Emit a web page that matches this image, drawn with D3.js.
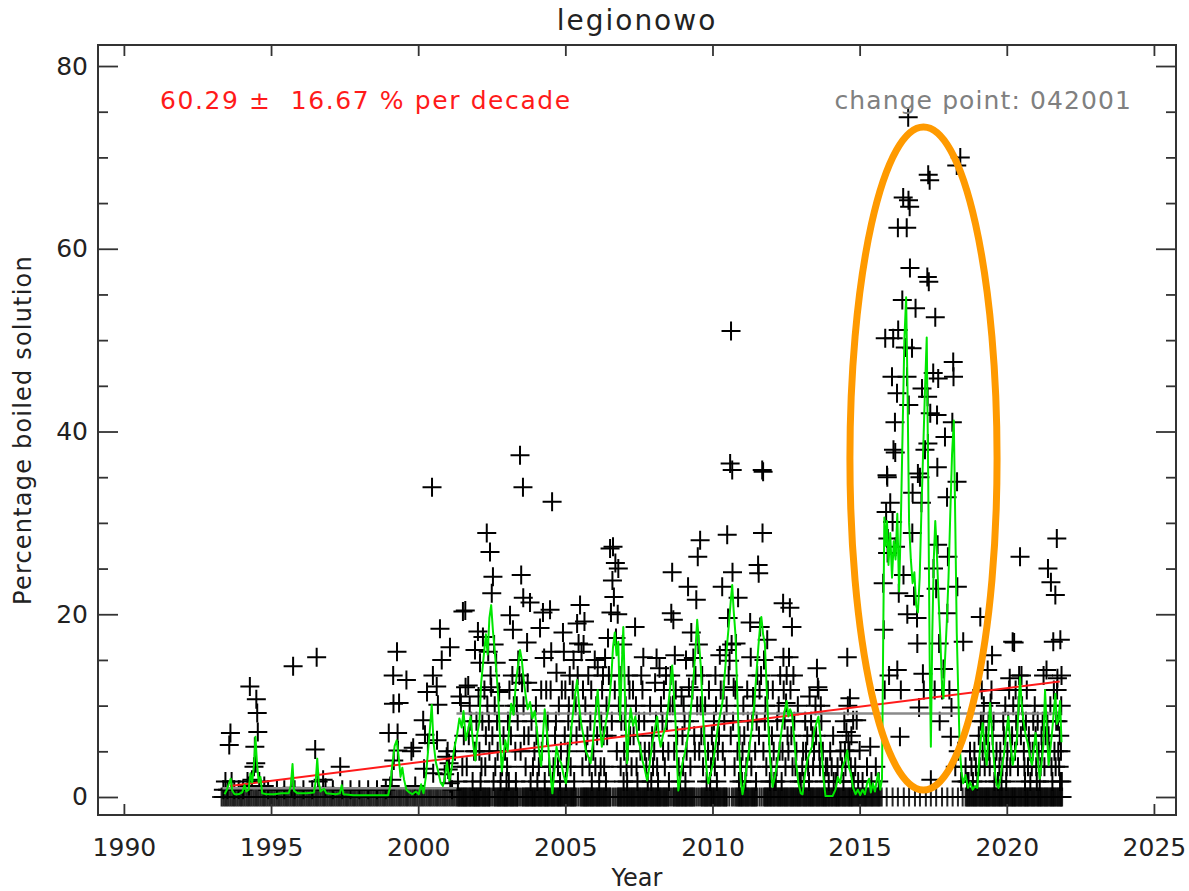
<!DOCTYPE html>
<html>
<head>
<meta charset="utf-8">
<script src="https://cdn.jsdelivr.net/npm/d3@7"></script>
<style>
  body { margin: 0; background: #fff; }
  svg { display: block; }
  text { font-family: "DejaVu Sans", sans-serif; }
</style>
</head>
<body>
<svg id="chart" width="1189" height="891"></svg>
<script>
// ---- axis ticks ----
const xTickYears = [1990, 1995, 2000, 2005, 2010, 2015, 2020, 2025];
const yMajorTicks = [0, 20, 40, 60, 80];
const yMinorTicks = [5, 10, 15, 25, 30, 35, 45, 50, 55, 65, 70, 75];

// ---- annotation texts ----
const titleText = "legionowo";
const trendText = "60.29 \u00b1  16.67 % per decade";
const changeText = "change point: 042001";

// ---- samples with 0 % boiled solution (decimal years) ----
const zeroYears = [
  1993.32,1993.38,1993.44,1993.5,1993.56,1993.62,1993.68,1993.74,1993.8,1993.86,1993.92,1993.98,
  1994.04,1994.1,1994.16,1994.22,1994.28,1994.34,1994.4,1994.46,1994.52,1994.58,1994.64,1994.7,1994.76,1994.82,1994.88,1994.94,
  1995.0,1995.06,1995.12,1995.18,1995.24,1995.3,1995.36,1995.42,1995.48,1995.54,1995.6,1995.66,1995.72,1995.78,1995.84,1995.9,1995.96,
  1996.02,1996.08,1996.14,1996.2,1996.26,1996.32,1996.38,1996.44,1996.5,1996.56,1996.62,1996.68,1996.74,1996.8,1996.86,1996.92,1996.98,
  1997.04,1997.1,1997.16,1997.22,1997.28,1997.34,1997.4,1997.46,1997.52,1997.58,1997.64,1997.7,1997.76,1997.82,1997.88,1997.94,
  1998.0,1998.06,1998.12,1998.18,1998.24,1998.3,1998.36,1998.42,1998.48,1998.54,1998.6,1998.66,1998.72,1998.78,1998.84,1998.9,1998.96,
  1999.02,1999.08,1999.14,1999.2,1999.26,1999.32,1999.38,1999.44,1999.5,1999.56,1999.62,1999.68,1999.74,1999.8,1999.86,1999.92,1999.98,
  2000.04,2000.1,2000.16,2000.22,2000.28,2000.34,2000.4,2000.46,2000.52,2000.58,2000.64,2000.7,2000.76,2000.82,2000.88,2000.94,
  2001.0,2001.06,2001.12,2001.18,2001.24,2001.3,
  2001.34,2001.38,2001.41,2001.45,2001.49,2001.53,2001.56,2001.6,2001.63,2001.67,2001.71,2001.75,2001.78,2001.82,2001.86,2001.9,2001.93,2001.97,
  2002.0,2002.04,2002.07,2002.11,2002.15,2002.19,2002.22,2002.26,2002.29,2002.33,2002.37,2002.41,2002.44,2002.51,2002.58,2002.62,2002.66,2002.7,2002.73,2002.77,2002.8,2002.84,2002.88,2002.92,2002.95,2002.99,
  2003.02,2003.06,2003.1,2003.14,2003.17,2003.21,2003.24,2003.28,2003.32,2003.36,2003.39,2003.46,2003.53,2003.57,2003.61,2003.65,2003.68,2003.72,2003.75,2003.79,2003.83,2003.87,2003.9,2003.94,2003.97,
  2004.01,2004.05,2004.09,2004.12,2004.16,2004.19,2004.23,2004.27,2004.31,2004.34,2004.38,2004.41,2004.45,2004.49,2004.53,2004.56,2004.6,2004.63,2004.67,2004.71,2004.75,2004.78,2004.82,2004.85,2004.89,2004.93,2004.97,
  2005.0,2005.04,2005.07,2005.11,2005.15,2005.19,2005.22,2005.26,2005.29,2005.33,2005.37,2005.44,2005.51,2005.55,2005.59,2005.63,2005.66,2005.7,2005.73,2005.77,2005.81,2005.85,2005.88,2005.92,2005.95,2005.99,
  2006.03,2006.07,2006.1,2006.14,2006.17,2006.21,2006.25,2006.29,2006.32,2006.36,2006.39,2006.43,2006.47,2006.51,2006.54,2006.62,2006.69,2006.76,2006.8,2006.83,2006.87,2006.9,2006.94,2006.98,
  2007.01,2007.05,2007.09,2007.12,2007.16,2007.2,2007.24,2007.27,2007.31,2007.34,2007.38,2007.42,2007.46,2007.49,2007.53,2007.56,2007.6,2007.64,2007.68,2007.71,2007.75,2007.78,2007.82,2007.86,2007.9,2007.93,2007.97,
  2008.0,2008.04,2008.08,2008.12,2008.15,2008.19,2008.22,2008.26,2008.3,2008.34,2008.37,2008.41,2008.44,2008.48,2008.52,2008.59,2008.66,2008.7,2008.74,2008.78,2008.81,2008.85,2008.88,2008.92,2008.96,2008.99,
  2009.03,2009.07,2009.1,2009.14,2009.18,2009.22,2009.25,2009.29,2009.32,2009.36,2009.4,2009.47,2009.54,2009.61,2009.65,2009.69,2009.73,2009.76,2009.8,2009.83,2009.87,2009.91,2009.95,2009.98,
  2010.02,2010.05,2010.09,2010.13,2010.17,2010.2,2010.24,2010.27,2010.31,2010.35,2010.39,2010.42,2010.46,2010.49,2010.57,2010.66,2010.72,2010.78,2010.82,2010.86,2010.9,2010.93,2010.97,
  2011.0,2011.04,2011.08,2011.12,2011.15,2011.19,2011.22,2011.26,2011.3,2011.34,2011.37,2011.41,2011.44,2011.48,2011.52,2011.6,2011.67,2011.74,2011.78,2011.81,2011.85,2011.88,2011.92,2011.96,2011.99,
  2012.03,2012.07,2012.1,2012.14,2012.18,2012.22,2012.25,2012.29,2012.32,2012.36,2012.4,2012.44,2012.47,2012.51,2012.54,2012.58,2012.62,2012.66,2012.69,2012.73,2012.76,2012.8,2012.84,2012.88,2012.91,2012.95,2012.98,
  2013.02,2013.06,2013.1,2013.13,2013.17,2013.2,2013.24,2013.28,2013.32,2013.35,2013.39,2013.42,2013.46,2013.5,2013.54,2013.57,2013.61,2013.64,2013.68,2013.72,2013.76,2013.79,2013.83,2013.86,2013.9,2013.94,2013.97,
  2014.01,2014.05,2014.08,2014.12,2014.16,2014.2,2014.23,2014.27,2014.3,2014.34,2014.38,2014.42,2014.45,2014.49,2014.52,2014.56,2014.6,2014.64,2014.67,2014.71,2014.74,2014.78,2014.82,
  2014.86,2014.9,2014.94,2014.98,2015.02,2015.06,2015.1,2015.14,2015.18,2015.22,2015.26,2015.3,2015.34,2015.38,2015.42,2015.46,2015.5,2015.54,2015.58,2015.62,2015.66,2015.7,2015.75,
  2015.92,2016.12,2016.3,2016.5,2016.68,2016.88,2017.05,2017.25,2017.42,2017.6,2017.8,2017.98,2018.16,2018.34,2018.5,
  2018.6,2018.64,2018.67,2018.71,2018.74,2018.78,2018.82,2018.86,2018.89,2018.93,2018.96,2019.0,2019.04,2019.08,2019.11,2019.15,2019.18,2019.22,
  2019.26,2019.3,2019.33,2019.37,2019.4,2019.44,2019.48,2019.52,2019.55,2019.59,2019.62,2019.66,2019.7,2019.74,2019.77,2019.81,2019.84,2019.88,
  2019.92,2019.96,2019.99,2020.03,2020.06,2020.1,2020.14,2020.18,2020.21,2020.25,2020.28,2020.32,2020.36,2020.4,2020.43,2020.47,2020.5,2020.54,
  2020.58,2020.62,2020.65,2020.69,2020.72,2020.76,2020.8,2020.84,2020.87,2020.91,2020.94,2020.98,2021.02,2021.06,2021.09,2021.13,2021.16,2021.2,
  2021.24,2021.28,2021.31,2021.35,2021.38,2021.42,2021.46,2021.5,2021.53,2021.57,2021.6,2021.64,2021.68,2021.72,2021.75,2021.79,2021.82,2021.85,2021.88
];

// ---- samples with a non-zero share: [decimal year, percent] ----
const samples = [
  [1993.38,0.8],[1993.45,1.7],[1993.52,0.8],[1993.58,5.7],[1993.62,7.0],[1993.66,1.7],[1993.75,0.8],[1993.9,0.8],
  [1994.05,0.8],[1994.2,1.7],[1994.25,1.2],[1994.28,12.1],[1994.35,1.9],[1994.42,3.3],[1994.45,5.5],[1994.48,3.7],
  [1994.5,10.7],[1994.53,9.2],[1994.55,7.1],[1994.6,1.7],[1994.77,1.2],[1994.9,0.8],[1995.2,0.8],[1995.45,0.8],
  [1995.7,1.0],[1995.75,14.3],[1995.8,0.8],[1996.1,0.8],[1996.4,0.8],[1996.5,5.2],[1996.55,15.3],[1996.6,1.7],
  [1996.77,1.9],[1996.85,1.0],[1997.1,0.8],[1997.35,3.3],[1997.42,0.8],[1997.7,0.8],[1998.0,0.8],[1998.3,0.8],
  [1998.6,0.8],[1998.9,0.8],[1999.0,7.0],[1999.05,1.2],[1999.1,1.9],[1999.15,13.3],[1999.16,10.2],[1999.17,4.0],
  [1999.28,15.9],[1999.3,7.0],[1999.31,5.1],[1999.35,10.3],[1999.6,12.8],[1999.77,5.0],[1999.83,5.4],[1999.9,1.2],
  [2000.17,8.4],[2000.2,3.1],[2000.23,6.8],[2000.3,11.5],[2000.33,5.9],[2000.47,33.9],[2000.5,13.3],[2000.51,2.6],
  [2000.63,12.1],[2000.64,6.2],[2000.67,10.1],[2000.74,18.4],[2000.8,15.0],[2000.9,2.5],[2000.97,4.4],[2001.0,5.0],
  [2001.02,3.0],[2001.05,3.7],[2001.08,16.4],[2001.09,1.5],[2001.15,0.8],
  [2001.25,5.0],[2001.35,1.7],[2001.42,11.0],[2001.45,10.3],[2001.5,3.3],[2001.52,20.3],[2001.55,6.7],[2001.6,20.4],
  [2001.61,12.0],[2001.65,3.3],[2001.7,12.2],[2001.72,6.7],[2001.75,10.0],[2001.8,8.3],[2001.85,1.7],[2001.9,5.0],
  [2001.93,16.1],[2001.95,5.0],[2001.98,8.3],
  [2002.03,18.1],[2002.05,11.0],[2002.08,5.0],[2002.1,14.7],[2002.12,1.7],[2002.15,3.3],[2002.18,8.3],[2002.2,17.5],
  [2002.25,11.7],[2002.28,3.3],[2002.3,6.7],[2002.33,28.9],[2002.35,10.0],[2002.38,15.9],[2002.4,8.3],[2002.42,5.0],
  [2002.44,26.8],[2002.46,13.3],[2002.48,12.0],[2002.5,22.3],[2002.52,6.7],[2002.54,24.1],[2002.56,1.7],[2002.58,16.7],
  [2002.6,10.0],[2002.62,3.3],[2002.65,14.7],[2002.68,8.3],[2002.7,5.0],[2002.75,11.5],[2002.8,1.7],[2002.85,3.3],
  [2002.9,6.7],[2002.95,5.0],
  [2003.0,1.7],[2003.02,3.3],[2003.05,8.3],[2003.08,1.7],[2003.1,11.7],[2003.12,19.9],[2003.15,6.7],[2003.2,13.3],
  [2003.22,18.3],[2003.25,10.0],[2003.3,5.0],[2003.32,1.7],[2003.35,10.0],[2003.38,8.3],[2003.4,15.0],[2003.44,13.3],
  [2003.46,37.4],[2003.48,5.0],[2003.5,24.3],[2003.53,12.5],[2003.56,33.9],[2003.57,21.8],[2003.58,10.0],[2003.6,6.7],
  [2003.65,3.3],[2003.7,16.9],[2003.72,12.5],[2003.75,6.7],[2003.8,21.3],[2003.82,1.7],[2003.85,8.3],[2003.9,3.3],
  [2003.95,5.0],
  [2004.0,10.0],[2004.02,6.7],[2004.05,1.7],[2004.1,3.3],[2004.14,18.5],[2004.18,11.7],[2004.2,5.0],[2004.24,20.2],
  [2004.28,15.2],[2004.3,1.7],[2004.35,11.7],[2004.38,6.7],[2004.4,8.3],[2004.45,3.3],[2004.48,20.5],[2004.5,11.7],
  [2004.52,15.9],[2004.55,32.3],[2004.58,1.7],[2004.6,3.3],[2004.65,6.7],[2004.68,8.3],[2004.7,13.6],[2004.75,3.3],
  [2004.78,10.0],[2004.82,1.7],[2004.85,5.0],[2004.88,11.7],[2004.92,18.0],[2004.95,15.9],[2004.98,6.7],
  [2005.0,11.7],[2005.02,1.7],[2005.05,3.3],[2005.08,5.0],[2005.1,8.3],[2005.12,10.0],[2005.15,13.3],[2005.18,3.3],
  [2005.2,6.7],[2005.25,11.7],[2005.28,15.0],[2005.3,1.7],[2005.35,10.0],[2005.38,6.7],[2005.4,19.0],[2005.42,13.3],
  [2005.45,16.8],[2005.48,8.3],[2005.5,21.0],[2005.55,15.9],[2005.58,3.3],[2005.6,11.7],[2005.62,16.7],[2005.65,19.2],
  [2005.68,10.0],[2005.7,5.0],[2005.75,6.7],[2005.78,13.3],[2005.82,3.3],[2005.85,8.3],[2005.88,11.7],[2005.9,1.7],
  [2005.95,5.0],
  [2006.0,15.0],[2006.02,3.3],[2006.05,10.0],[2006.08,6.7],[2006.1,14.2],[2006.15,1.7],[2006.2,3.3],[2006.22,8.3],
  [2006.25,11.7],[2006.28,13.3],[2006.3,6.7],[2006.32,3.3],[2006.35,15.2],[2006.38,1.7],[2006.4,10.0],[2006.42,6.7],
  [2006.45,17.4],[2006.48,13.3],[2006.52,27.2],[2006.55,20.2],[2006.58,8.3],[2006.6,23.7],[2006.62,27.4],[2006.65,21.9],
  [2006.68,11.7],[2006.7,25.6],[2006.72,17.4],[2006.75,5.0],[2006.78,20.0],[2006.8,25.0],[2006.82,10.0],[2006.85,13.3],
  [2006.88,3.3],[2006.9,8.3],[2006.95,16.7],[2006.98,1.7],
  [2007.0,5.0],[2007.02,8.3],[2007.05,10.0],[2007.08,3.3],[2007.1,1.7],[2007.12,5.0],[2007.15,13.3],[2007.18,11.7],
  [2007.2,6.7],[2007.25,3.3],[2007.3,11.7],[2007.32,6.7],[2007.37,18.6],[2007.4,10.0],[2007.42,3.3],[2007.45,1.7],
  [2007.5,8.3],[2007.55,5.0],[2007.58,13.3],[2007.62,11.7],[2007.65,15.3],[2007.68,8.3],[2007.7,5.0],[2007.75,3.3],
  [2007.8,1.7],[2007.85,5.0],[2007.88,10.0],[2007.92,1.7],[2007.95,6.7],[2007.98,3.3],
  [2008.02,5.0],[2008.05,12.5],[2008.08,8.3],[2008.1,15.2],[2008.12,3.3],[2008.15,1.7],[2008.2,14.1],[2008.25,10.0],
  [2008.3,8.3],[2008.32,5.0],[2008.35,11.7],[2008.38,3.3],[2008.42,13.3],[2008.45,8.3],[2008.5,5.0],[2008.52,1.7],
  [2008.55,10.0],[2008.58,13.3],[2008.6,20.1],[2008.63,24.6],[2008.65,10.0],[2008.67,19.4],[2008.7,5.0],[2008.72,15.5],
  [2008.75,11.7],[2008.8,6.7],[2008.85,3.3],[2008.9,1.7],[2008.95,11.0],[2008.98,6.7],
  [2009.0,3.3],[2009.02,10.0],[2009.05,8.3],[2009.08,1.7],[2009.1,15.0],[2009.12,5.0],[2009.17,23.0],[2009.2,12.0],
  [2009.22,8.3],[2009.25,3.3],[2009.28,18.0],[2009.32,11.7],[2009.35,15.2],[2009.38,6.7],[2009.4,5.0],[2009.42,13.3],
  [2009.45,21.6],[2009.48,10.0],[2009.5,26.3],[2009.52,16.7],[2009.55,5.0],[2009.58,28.1],[2009.6,10.0],[2009.62,6.7],
  [2009.65,13.3],[2009.68,3.3],[2009.72,6.7],[2009.75,10.0],[2009.8,1.7],[2009.85,5.0],[2009.88,11.7],[2009.92,1.7],
  [2009.95,3.3],[2009.98,6.7],
  [2010.02,5.0],[2010.05,8.3],[2010.08,3.3],[2010.1,13.3],[2010.12,10.0],[2010.15,1.7],[2010.18,5.0],[2010.22,6.7],
  [2010.25,15.5],[2010.28,11.7],[2010.33,23.0],[2010.35,5.0],[2010.38,11.7],[2010.4,8.3],[2010.42,3.3],[2010.45,16.1],
  [2010.48,10.0],[2010.5,28.7],[2010.53,19.6],[2010.55,13.3],[2010.58,14.9],[2010.6,36.5],[2010.62,6.7],[2010.63,51.0],
  [2010.65,16.7],[2010.67,35.8],[2010.68,24.6],[2010.7,8.3],[2010.72,12.0],[2010.75,3.3],[2010.78,11.7],[2010.8,16.8],
  [2010.85,5.0],[2010.87,21.8],[2010.9,1.7],[2010.92,6.7],[2010.97,3.3],
  [2011.0,1.7],[2011.02,5.0],[2011.05,10.0],[2011.08,6.7],[2011.12,1.7],[2011.15,3.3],[2011.18,11.7],[2011.2,8.3],
  [2011.25,5.0],[2011.28,19.1],[2011.3,15.3],[2011.32,3.3],[2011.35,8.3],[2011.38,11.0],[2011.42,10.0],[2011.45,5.0],
  [2011.48,1.7],[2011.5,8.3],[2011.52,13.3],[2011.55,25.4],[2011.57,24.5],[2011.58,6.7],[2011.6,11.7],[2011.62,18.6],
  [2011.65,13.3],[2011.69,35.8],[2011.7,28.9],[2011.72,35.6],[2011.73,5.0],[2011.75,15.0],[2011.78,8.3],[2011.8,10.0],
  [2011.83,3.3],[2011.86,17.2],[2011.88,11.7],[2011.92,6.7],[2011.95,1.7],
  [2012.0,3.3],[2012.02,6.7],[2012.05,11.7],[2012.08,5.0],[2012.1,1.7],[2012.15,1.7],[2012.18,3.3],[2012.2,8.3],
  [2012.25,10.0],[2012.28,5.0],[2012.3,13.3],[2012.35,1.7],[2012.38,5.0],[2012.4,21.2],[2012.41,15.3],[2012.42,11.7],
  [2012.45,8.4],[2012.48,3.3],[2012.5,10.3],[2012.52,13.3],[2012.55,6.7],[2012.58,5.0],[2012.6,15.3],[2012.63,20.7],
  [2012.65,11.7],[2012.68,6.7],[2012.7,18.6],[2012.72,3.3],[2012.75,13.3],[2012.78,8.3],[2012.82,3.3],[2012.85,5.0],
  [2012.9,10.0],[2012.95,1.7],
  [2013.0,1.7],[2013.05,3.3],[2013.08,5.0],[2013.1,1.7],[2013.15,8.3],[2013.18,5.0],[2013.22,6.7],[2013.25,3.3],
  [2013.28,1.7],[2013.3,11.0],[2013.35,8.3],[2013.4,6.7],[2013.42,3.3],[2013.45,5.0],[2013.5,10.0],[2013.52,6.7],
  [2013.55,14.1],[2013.58,12.0],[2013.6,11.7],[2013.63,5.0],[2013.65,3.3],[2013.68,10.0],[2013.7,8.3],[2013.75,5.0],
  [2013.8,1.7],[2013.85,3.3],[2013.9,3.3],[2013.95,1.7],
  [2014.0,5.0],[2014.05,3.3],[2014.1,6.7],[2014.12,1.7],[2014.2,1.7],[2014.25,3.3],[2014.35,5.0],[2014.4,3.3],
  [2014.45,1.7],[2014.48,8.3],[2014.5,5.1],[2014.52,3.3],[2014.55,7.1],[2014.58,15.3],[2014.6,10.0],[2014.62,6.0],
  [2014.65,5.0],[2014.67,10.8],[2014.7,3.3],[2014.72,6.7],[2014.75,1.7],[2014.78,8.4],[2014.8,1.7],[2014.85,3.3],
  [2014.9,8.4],[2014.95,1.7],[2015.0,5.1],[2015.1,1.7],[2015.25,3.3],[2015.36,5.5],[2015.4,1.7],[2015.55,3.3],
  [2015.65,1.7],
  [2015.8,23.4],[2015.82,18.3],[2015.85,11.7],[2015.87,50.2],[2015.9,31.2],[2015.93,35.2],[2015.94,35.0],[2015.95,26.7],
  [2015.96,28.3],[2016.0,13.3],[2016.04,32.2],[2016.1,46.0],[2016.12,30.1],[2016.14,50.2],[2016.15,38.0],[2016.2,41.0],
  [2016.21,37.7],[2016.22,27.4],[2016.27,44.2],[2016.28,13.9],[2016.3,62.3],[2016.31,51.1],[2016.33,22.3],[2016.37,6.6],
  [2016.4,11.7],[2016.45,54.4],[2016.48,65.6],[2016.49,24.3],[2016.55,49.2],[2016.6,62.3],[2016.61,46.0],[2016.62,20.0],
  [2016.65,74.4],[2016.66,65.3],[2016.67,42.9],[2016.7,64.6],[2016.71,57.9],[2016.78,49.1],[2016.79,28.9],[2016.8,33.3],
  [2016.85,22.0],[2016.9,53.5],[2016.95,19.6],[2016.96,16.8],[2016.98,35.4],[2017.02,9.8],[2017.05,35.0],[2017.1,32.2],
  [2017.12,44.7],[2017.15,13.5],[2017.18,11.7],[2017.22,38.0],[2017.3,56.9],[2017.31,43.8],[2017.32,38.7],[2017.33,68.1],
  [2017.35,56.4],[2017.38,67.5],[2017.4,42.0],[2017.42,1.9],[2017.5,46.4],[2017.51,25.0],[2017.55,11.7],[2017.57,52.5],
  [2017.6,22.8],[2017.63,41.8],[2017.64,36.1],[2017.65,27.6],[2017.67,45.8],[2017.7,16.8],[2017.72,8.3],[2017.8,11.7],
  [2017.85,14.0],[2017.9,39.4],[2017.97,32.8],[2017.98,20.1],[2018.0,26.3],[2018.05,11.7],[2018.1,6.6],[2018.12,9.8],
  [2018.15,41.0],[2018.18,47.6],[2018.19,46.0],[2018.25,3.3],[2018.3,69.1],[2018.31,34.5],[2018.32,23.0],[2018.35,5.0],
  [2018.42,70.0],[2018.45,1.7],[2018.52,17.0],
  [2018.6,3.3],[2018.65,1.7],[2018.7,1.7],[2018.75,5.0],[2018.8,3.3],[2018.85,1.7],[2018.9,5.0],[2018.95,3.3],
  [2019.0,1.7],[2019.05,6.7],[2019.08,3.3],[2019.1,19.7],[2019.12,8.3],[2019.15,11.7],[2019.18,5.0],[2019.2,8.3],
  [2019.22,10.0],[2019.25,3.3],[2019.3,6.7],[2019.35,13.9],[2019.38,8.3],[2019.4,5.0],[2019.42,3.3],[2019.45,10.3],
  [2019.48,11.7],[2019.5,15.5],[2019.52,6.7],[2019.55,8.3],[2019.58,1.7],[2019.6,3.3],[2019.65,5.0],[2019.7,1.7],
  [2019.75,3.3],[2019.78,5.0],[2019.82,1.7],[2019.85,3.3],[2019.88,8.3],[2019.9,6.7],[2019.95,10.0],[2019.98,1.7],
  [2020.0,3.3],[2020.02,5.0],[2020.05,8.3],[2020.08,11.7],[2020.1,13.0],[2020.12,3.3],[2020.15,5.0],[2020.18,6.7],
  [2020.2,17.0],[2020.22,10.0],[2020.25,16.9],[2020.28,5.0],[2020.3,11.7],[2020.32,8.3],[2020.35,6.7],[2020.38,3.3],
  [2020.4,10.0],[2020.42,13.3],[2020.45,26.3],[2020.48,6.7],[2020.5,13.3],[2020.52,10.0],[2020.55,8.3],[2020.58,5.0],
  [2020.6,3.3],[2020.62,1.7],[2020.65,8.3],[2020.68,11.7],[2020.72,3.3],[2020.75,6.7],[2020.78,5.0],[2020.8,1.7],
  [2020.85,3.3],[2020.88,5.0],[2020.9,8.3],[2020.95,10.0],[2020.98,6.7],
  [2021.0,3.3],[2021.02,1.7],[2021.05,8.3],[2021.08,5.0],[2021.12,1.7],[2021.15,3.3],[2021.18,6.7],[2021.2,5.0],
  [2021.22,8.3],[2021.25,13.3],[2021.28,3.3],[2021.3,10.0],[2021.32,6.7],[2021.35,13.9],[2021.38,8.3],[2021.4,25.0],
  [2021.42,6.7],[2021.45,5.0],[2021.48,10.0],[2021.5,23.5],[2021.52,3.3],[2021.55,1.7],[2021.58,17.0],[2021.6,11.7],
  [2021.62,5.0],[2021.65,22.1],[2021.66,3.3],[2021.68,8.3],[2021.7,28.3],[2021.71,11.7],[2021.72,13.0],[2021.74,8.3],
  [2021.75,5.0],[2021.78,3.3],[2021.8,6.7],[2021.81,1.7],[2021.82,17.2],[2021.84,5.0],[2021.85,10.0],[2021.86,13.3],
  [2021.87,1.7]
];

// ---- running mean of the samples: [decimal year, percent] ----
const runningMean = [
  [1993.42,0.3],[1993.5,0.8],[1993.57,1.5],[1993.63,2.0],[1993.68,0.7],[1993.76,0.3],[1993.9,0.3],[1994.02,0.5],
  [1994.1,1.3],[1994.16,0.6],[1994.24,0.8],[1994.3,2.6],[1994.36,1.6],[1994.42,3.5],[1994.47,6.6],[1994.52,3.8],
  [1994.58,1.6],[1994.64,2.2],[1994.7,0.4],[1994.85,0.3],[1995.1,0.3],[1995.35,0.4],[1995.6,0.4],[1995.67,1.2],
  [1995.73,3.6],[1995.78,0.7],[1995.9,0.4],[1996.2,0.4],[1996.46,0.5],[1996.52,1.8],[1996.57,4.2],[1996.62,1.6],
  [1996.68,0.6],[1996.8,0.9],[1996.88,0.4],[1997.2,0.3],[1997.34,0.4],[1997.4,1.3],[1997.46,0.3],[1997.8,0.2],
  [1998.4,0.2],[1998.98,0.2],[1999.05,1.2],[1999.12,3.5],[1999.2,5.6],[1999.27,6.2],[1999.33,4.6],[1999.4,2.2],
  [1999.46,3.2],[1999.52,1.9],[1999.6,0.8],[1999.7,0.5],[1999.8,0.3],[1999.92,0.6],[2000.02,0.3],[2000.1,1.4],
  [2000.18,0.4],[2000.26,2.2],[2000.34,5.2],[2000.4,7.5],[2000.46,10.1],[2000.52,6.0],[2000.6,3.8],[2000.68,2.8],
  [2000.76,1.6],[2000.84,1.2],[2000.92,2.4],[2000.98,3.8],[2001.06,1.8],[2001.14,3.2],[2001.22,5.2],[2001.32,6.8],
  [2001.4,8.6],[2001.48,7.6],[2001.54,9.4],[2001.62,6.2],[2001.7,7.4],[2001.78,8.8],[2001.86,6.0],[2001.94,4.0],
  [2002.0,6.8],[2002.08,8.2],[2002.14,12.5],[2002.22,15.2],[2002.3,17.8],[2002.36,15.6],[2002.42,19.6],[2002.48,21.0],
  [2002.54,18.2],[2002.6,16.0],[2002.66,13.6],[2002.72,11.0],[2002.78,6.5],[2002.84,2.8],[2002.9,4.6],[2002.96,6.2],
  [2003.04,5.0],[2003.1,8.0],[2003.16,10.2],[2003.24,9.0],[2003.32,12.5],[2003.4,14.6],[2003.46,16.1],[2003.52,15.0],
  [2003.58,13.0],[2003.64,11.4],[2003.72,9.6],[2003.8,10.4],[2003.88,8.6],[2003.96,9.4],[2004.04,7.2],[2004.1,5.2],
  [2004.18,3.4],[2004.24,6.8],[2004.3,9.6],[2004.36,7.5],[2004.42,5.6],[2004.48,3.0],[2004.56,0.4],[2004.62,2.6],
  [2004.7,5.5],[2004.78,4.2],[2004.86,3.7],[2004.94,2.4],[2005.02,1.5],[2005.1,3.6],[2005.18,6.8],[2005.26,9.2],
  [2005.34,11.4],[2005.4,12.8],[2005.46,10.2],[2005.54,8.0],[2005.62,6.6],[2005.7,5.0],[2005.78,4.4],[2005.86,3.7],
  [2005.94,6.0],[2006.02,9.0],[2006.1,11.7],[2006.16,8.4],[2006.24,5.5],[2006.32,7.0],[2006.4,8.6],[2006.48,10.0],
  [2006.56,13.0],[2006.62,16.4],[2006.68,18.0],[2006.74,15.5],[2006.8,17.0],[2006.86,8.4],[2006.92,14.5],[2006.97,18.6],
  [2007.04,9.0],[2007.1,3.7],[2007.16,7.6],[2007.22,9.7],[2007.3,7.8],[2007.38,8.8],[2007.46,6.4],[2007.54,5.5],
  [2007.62,4.0],[2007.7,3.0],[2007.78,1.8],[2007.86,3.4],[2007.95,5.8],[2008.04,7.4],[2008.12,8.8],[2008.18,6.6],
  [2008.24,5.5],[2008.32,6.8],[2008.4,7.6],[2008.48,9.4],[2008.56,12.0],[2008.63,14.4],[2008.68,11.8],[2008.74,8.4],
  [2008.8,3.5],[2008.84,0.7],[2008.9,2.0],[2008.98,3.7],[2009.06,4.8],[2009.14,6.2],[2009.22,8.0],[2009.3,10.8],
  [2009.36,13.2],[2009.42,16.0],[2009.48,19.4],[2009.54,17.0],[2009.6,14.4],[2009.66,10.0],[2009.72,6.4],[2009.8,3.0],
  [2009.86,1.5],[2009.94,2.6],[2010.02,3.7],[2010.1,5.6],[2010.18,7.6],[2010.26,9.0],[2010.34,10.4],[2010.42,13.6],
  [2010.5,16.8],[2010.56,19.0],[2010.62,21.4],[2010.67,23.2],[2010.72,20.4],[2010.78,17.8],[2010.84,11.5],[2010.9,6.0],
  [2010.96,1.8],[2011.02,0.3],[2011.1,1.8],[2011.18,3.7],[2011.26,5.6],[2011.34,7.6],[2011.42,10.2],[2011.5,13.8],
  [2011.56,16.5],[2011.62,18.8],[2011.66,19.7],[2011.72,17.8],[2011.78,16.8],[2011.84,12.0],[2011.9,7.6],[2011.96,4.0],
  [2012.04,1.1],[2012.12,2.2],[2012.2,3.7],[2012.28,5.6],[2012.36,7.6],[2012.44,9.2],[2012.52,10.5],[2012.58,8.8],
  [2012.64,9.6],[2012.7,9.1],[2012.76,7.0],[2012.84,3.8],[2012.92,1.5],[2013.0,0.4],[2013.06,0.3],[2013.14,2.4],
  [2013.22,4.0],[2013.3,4.8],[2013.38,5.5],[2013.46,7.2],[2013.54,8.2],[2013.6,8.8],[2013.66,6.8],[2013.72,4.4],
  [2013.78,1.8],[2013.84,0.1],[2013.95,0.1],[2014.08,0.1],[2014.18,0.8],[2014.26,2.2],[2014.34,1.5],[2014.42,3.3],
  [2014.5,4.0],[2014.58,5.1],[2014.64,3.2],[2014.7,2.6],[2014.78,1.0],[2014.86,0.3],[2014.94,0.8],[2015.02,0.2],
  [2015.1,0.8],[2015.18,0.3],[2015.26,1.6],[2015.32,2.0],[2015.38,0.5],[2015.45,1.5],[2015.52,0.6],[2015.58,1.8],
  [2015.63,2.6],[2015.7,0.8],[2015.76,2.0],[2015.8,17.0],[2015.84,30.6],[2015.88,27.5],[2015.93,30.2],[2015.98,25.4],
  [2016.04,28.9],[2016.1,24.0],[2016.16,28.0],[2016.22,26.0],[2016.28,31.0],[2016.34,22.5],[2016.4,30.0],[2016.46,40.0],
  [2016.52,50.0],[2016.58,54.7],[2016.63,44.0],[2016.68,30.0],[2016.74,26.0],[2016.8,23.4],[2016.86,24.6],[2016.92,21.0],
  [2016.98,20.2],[2017.04,24.0],[2017.1,31.4],[2017.16,38.0],[2017.22,44.5],[2017.28,50.3],[2017.33,35.0],[2017.38,15.0],
  [2017.42,5.5],[2017.47,18.0],[2017.52,26.0],[2017.57,30.2],[2017.62,27.0],[2017.68,22.0],[2017.74,17.5],[2017.8,12.0],
  [2017.85,10.8],[2017.9,15.0],[2017.96,19.0],[2018.02,24.0],[2018.08,31.0],[2018.14,37.5],[2018.2,41.2],[2018.25,30.0],
  [2018.3,18.0],[2018.35,11.5],[2018.4,5.5],[2018.46,2.8],[2018.52,1.5],[2018.6,2.4],[2018.68,1.0],[2018.76,1.6],
  [2018.84,0.8],[2018.92,1.2],[2019.0,1.0],[2019.06,4.0],[2019.12,6.5],[2019.18,8.1],[2019.26,5.0],[2019.32,3.5],
  [2019.38,7.0],[2019.43,10.3],[2019.49,7.5],[2019.54,5.0],[2019.6,2.6],[2019.66,1.3],[2019.72,1.0],[2019.78,2.0],
  [2019.84,3.4],[2019.9,4.5],[2019.98,7.0],[2020.05,8.8],[2020.12,6.0],[2020.2,3.5],[2020.28,4.8],[2020.35,6.5],
  [2020.4,9.8],[2020.45,13.1],[2020.5,10.4],[2020.56,8.5],[2020.64,6.8],[2020.72,5.8],[2020.8,4.2],[2020.86,3.5],
  [2020.92,5.4],[2020.98,7.0],[2021.04,4.5],[2021.12,2.0],[2021.18,3.6],[2021.24,5.6],[2021.3,11.7],[2021.36,7.4],
  [2021.42,3.5],[2021.48,5.2],[2021.55,7.5],[2021.6,9.4],[2021.65,11.3],[2021.7,8.0],[2021.76,8.5],[2021.81,10.5],
  [2021.86,6.0]
];

// ---- fitted trend and the two segment means around the change point ----
const trendLine = [[1993.6, 1.2], [2021.8, 12.65]];
const meanBefore = [[1993.35, 0.95], [2001.3, 0.95]];
const meanAfter = [[2001.3, 9.15], [2021.85, 9.15]];

// ---- highlighted period (centre and half-extents in data units) ----
const highlightCentre = [2017.17, 37.05];
const highlightHalfSize = [2.5, 36.28];

// ===================================================================
const svg = d3.select("#chart");
const plot = { left: 98, right: 1176, top: 45, bottom: 815 };

const x = d3.scaleLinear().domain([1989.12, 2025.75]).range([plot.left, plot.right]);
const y = d3.scaleLinear().domain([-1.97, 82.3]).range([plot.bottom, plot.top]);

const axisColor = "#333";
const textColor = "#222";

// markers: plus signs
const plusPath = "M-9.5,0H9.5M0,-9.5V9.5";
const markers = svg.append("g").attr("stroke", "#000").attr("stroke-width", 2).attr("fill", "none");
markers.selectAll("path.zero").data(zeroYears).join("path")
  .attr("class", "zero")
  .attr("d", plusPath)
  .attr("stroke-opacity", 0.85)
  .attr("transform", d => `translate(${x(d)},${y(0)})`);
markers.selectAll("path.sample").data(samples).join("path")
  .attr("class", "sample")
  .attr("d", plusPath)
  .attr("transform", d => `translate(${x(d[0])},${y(d[1])})`);

const line = d3.line().x(d => x(d[0])).y(d => y(d[1]));

// segment means
svg.append("g").selectAll("path").data([meanBefore, meanAfter]).join("path")
  .attr("d", line).attr("fill", "none").attr("stroke", "#8a8a8a").attr("stroke-width", 2.5);

// trend
svg.append("path").datum(trendLine).attr("d", line)
  .attr("fill", "none").attr("stroke", "#ff1a1a").attr("stroke-width", 2);

// running mean
svg.append("path").datum(runningMean).attr("d", line)
  .attr("fill", "none").attr("stroke", "#00e600").attr("stroke-width", 2)
  .attr("stroke-linejoin", "round");

// axes: inward ticks on all four sides
const xb = d3.axisBottom(x).tickValues(xTickYears).tickSize(-11).tickPadding(23).tickSizeOuter(0).tickFormat(d3.format("d"));
const xt = d3.axisTop(x).tickValues(xTickYears).tickSize(-11).tickSizeOuter(0).tickFormat("");
const yl = d3.axisLeft(y).tickValues(yMajorTicks).tickSize(-20).tickPadding(30).tickSizeOuter(0).tickFormat(d3.format("d"));
const ylm = d3.axisLeft(y).tickValues(yMinorTicks).tickSize(-10).tickSizeOuter(0).tickFormat("");
const yr = d3.axisRight(y).tickValues(yMajorTicks).tickSize(-20).tickSizeOuter(0).tickFormat("");
const yrm = d3.axisRight(y).tickValues(yMinorTicks).tickSize(-10).tickSizeOuter(0).tickFormat("");

function styleAxis(g) {
  g.select(".domain").remove();
  g.selectAll(".tick line").attr("stroke", axisColor).attr("stroke-width", 1.8);
  g.selectAll(".tick text").attr("fill", textColor).attr("font-family", "DejaVu Sans").attr("font-size", 25);
}
svg.append("g").attr("transform", `translate(0,${plot.bottom})`).call(xb).call(styleAxis);
svg.append("g").attr("transform", `translate(0,${plot.top})`).call(xt).call(styleAxis);
svg.append("g").attr("transform", `translate(${plot.left},0)`).call(yl).call(styleAxis)
  .selectAll(".tick text").attr("text-anchor", "end").attr("x", -10);
svg.append("g").attr("transform", `translate(${plot.left},0)`).call(ylm).call(styleAxis);
svg.append("g").attr("transform", `translate(${plot.right},0)`).call(yr).call(styleAxis);
svg.append("g").attr("transform", `translate(${plot.right},0)`).call(yrm).call(styleAxis);

// frame
svg.append("rect")
  .attr("x", plot.left).attr("y", plot.top)
  .attr("width", plot.right - plot.left).attr("height", plot.bottom - plot.top)
  .attr("fill", "none").attr("stroke", axisColor).attr("stroke-width", 2);

// highlight ellipse
svg.append("ellipse")
  .attr("cx", x(highlightCentre[0])).attr("cy", y(highlightCentre[1]))
  .attr("rx", x(highlightCentre[0] + highlightHalfSize[0]) - x(highlightCentre[0]))
  .attr("ry", y(highlightCentre[1] - highlightHalfSize[1]) - y(highlightCentre[1]))
  .attr("fill", "none").attr("stroke", "#ff9a00").attr("stroke-width", 7);

// texts
svg.append("text").attr("x", (plot.left + plot.right) / 2).attr("y", 30)
  .attr("text-anchor", "middle").attr("font-size", 28).attr("letter-spacing", 2)
  .attr("fill", textColor).text(titleText);

svg.append("text").attr("x", 160).attr("y", 109)
  .attr("font-size", 25).attr("letter-spacing", 1.6).attr("fill", "#ff1a1a")
  .style("white-space", "pre").text(trendText);

svg.append("text").attr("x", 1132).attr("y", 109)
  .attr("text-anchor", "end").attr("font-size", 25).attr("letter-spacing", 1.1).attr("fill", "#808080")
  .text(changeText);

svg.append("text").attr("x", (plot.left + plot.right) / 2).attr("y", 886)
  .attr("text-anchor", "middle").attr("font-size", 24).attr("fill", textColor).text("Year");

svg.append("text")
  .attr("transform", `translate(31,${(plot.top + plot.bottom) / 2}) rotate(-90)`)
  .attr("text-anchor", "middle").attr("font-size", 24).attr("letter-spacing", 1.2)
  .attr("fill", textColor).text("Percentage boiled solution");
</script>
</body>
</html>
